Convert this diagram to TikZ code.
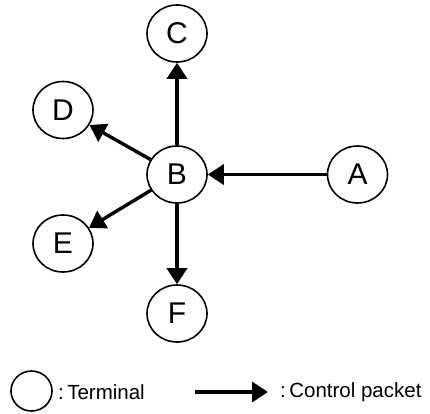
\documentclass[tikz,border=0pt]{standalone}
\usepackage{fontspec}
\setmainfont{Liberation Sans}
\usetikzlibrary{arrows.meta,shapes.geometric}
\begin{document}
\begin{tikzpicture}[x=1pt,y=-1pt,
  term/.style={draw=black,line width=1.6pt,ellipse,minimum width=60pt,minimum height=57pt,inner sep=0pt,font=\fontsize{30}{30}\selectfont},
  pkt/.style={line width=3.4pt,-{Triangle[length=16pt,width=20pt]}},
  lbl/.style={font=\fontsize{20.5}{21}\selectfont,inner sep=0pt,anchor=west}]
\useasboundingbox (0,0) rectangle (430,413);
\node[term] (C) at (177,33.5) {C};
\node[term] (D) at (63,110) {D};
\node[term] (B) at (177,174.5) {B};
\node[term] (A) at (357.5,174.5) {A};
\node[term] (E) at (63,243.5) {E};
\node[term] (F) at (177,313.5) {F};
\draw[pkt] (A) -- (B);
\draw[pkt] (B) -- (C);
\draw[pkt] (B) -- (D);
\draw[pkt] (B) -- (E);
\draw[pkt] (B) -- (F);
\node[draw=black,line width=1.6pt,ellipse,minimum width=41pt,minimum height=40pt,inner sep=0pt] (T) at (31.5,391) {};
\node[lbl] (TL) at (58,392) {:\,Terminal};
\coordinate (P1) at (195,392);
\coordinate (P2) at (268,392);
\draw[pkt] (P1) -- (P2);
\node[lbl] (PL) at (280,392) {:\,Control packet};
\end{tikzpicture}
\end{document}
